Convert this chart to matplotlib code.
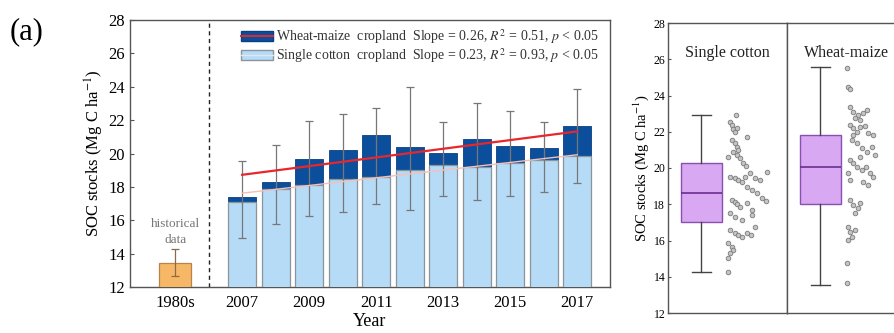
import numpy as np
import matplotlib
matplotlib.use("Agg")
import matplotlib.pyplot as plt
from matplotlib.patches import Patch
from matplotlib.lines import Line2D

plt.rcParams['font.family'] = ['Liberation Serif', 'DejaVu Serif']
plt.rcParams['mathtext.fontset'] = 'stix'

# ---------------- data ----------------
years = [2007, 2008, 2009, 2010, 2011, 2012, 2013, 2014, 2015, 2016, 2017]
year_ticks = ['1980s', '2007', '2009', '2011', '2013', '2015', '2017']
wheat_maize = [17.37, 18.27, 19.67, 20.20, 21.10, 20.37, 20.01, 20.85, 20.45, 20.30, 21.67]
single_cotton = [17.10, 17.85, 18.11, 18.47, 18.60, 19.01, 19.31, 19.17, 19.41, 19.61, 19.87]
err_mean = [17.24, 18.13, 19.11, 19.42, 19.83, 20.30, 19.66, 20.10, 20.00, 19.77, 21.06]
err_sd = [2.30, 2.37, 2.84, 2.95, 2.87, 3.70, 2.20, 2.90, 2.55, 2.10, 2.80]
hist_mean = 13.45
hist_sd = 0.80
slope_wm = 0.26
slope_sc = 0.23

# box plot statistics (q1, median, q3, whisker low, whisker high)
box_names = ['Single cotton', 'Wheat-maize']
box_q1 = [17.04, 18.01]
box_med = [18.60, 20.07]
box_q3 = [20.26, 21.82]
box_wlo = [14.25, 13.55]
box_whi = [22.92, 25.59]

cotton_pts_x = [0.571, 0.521, 0.535, 0.549, 0.563, 0.583, 0.661, 0.535, 0.563, 0.577,
                0.591, 0.549, 0.577, 0.605, 0.633, 0.655, 0.507, 0.829, 0.521, 0.563,
                0.591, 0.619, 0.647, 0.689, 0.731, 0.773, 0.661, 0.703, 0.745, 0.787,
                0.824, 0.535, 0.563, 0.577, 0.605, 0.661, 0.703, 0.521, 0.563, 0.619,
                0.703, 0.731, 0.521, 0.563, 0.591, 0.619, 0.661, 0.695, 0.507, 0.535,
                0.549, 0.521, 0.507, 0.507]
cotton_pts_y = [22.92, 22.56, 22.37, 22.13, 22.00, 22.19, 21.73, 21.54, 21.36, 21.18,
                20.99, 20.90, 20.72, 20.53, 20.26, 20.11, 20.63, 19.80, 19.52, 19.43,
                19.34, 19.25, 19.52, 19.71, 19.43, 19.34, 18.97, 18.79, 18.60, 18.33,
                18.18, 18.23, 18.14, 18.01, 17.87, 18.05, 17.68, 17.50, 17.31, 17.13,
                17.41, 16.76, 16.58, 16.40, 16.30, 16.17, 16.40, 16.30, 15.84, 15.66,
                15.48, 15.29, 15.02, 14.28]
wheat_pts_x = [0.501, 0.510, 0.529, 0.529, 0.557, 0.599, 0.571, 0.613, 0.641, 0.669,
               0.529, 0.557, 0.585, 0.613, 0.655, 0.683, 0.725, 0.557, 0.543, 0.585,
               0.627, 0.669, 0.711, 0.739, 0.613, 0.529, 0.557, 0.591, 0.627, 0.664,
               0.697, 0.725, 0.641, 0.683, 0.510, 0.529, 0.529, 0.557, 0.599, 0.571,
               0.613, 0.515, 0.529, 0.543, 0.571, 0.515, 0.501, 0.501]
wheat_pts_y = [25.50, 24.45, 24.34, 23.38, 23.11, 22.92, 22.74, 22.65, 23.02, 23.20,
               22.37, 22.19, 22.00, 22.28, 22.32, 21.91, 21.82, 21.82, 21.54, 21.36,
               21.09, 20.90, 21.18, 20.72, 20.63, 20.44, 20.26, 20.07, 19.89, 20.07,
               19.71, 19.52, 19.25, 19.06, 19.71, 19.34, 18.23, 17.96, 17.78, 17.50,
               18.05, 16.76, 16.49, 16.21, 16.58, 16.03, 14.74, 13.64]

# ---------------- figure ----------------
W, H = 894, 333
fig = plt.figure(figsize=(W / 100, H / 100), dpi=100)

def rect(x0, y0, x1, y1):
    return [x0 / W, 1 - y1 / H, (x1 - x0) / W, (y1 - y0) / H]

ax = fig.add_axes(rect(130, 20, 610, 287))

dark = '#0b4f9c'
light = '#b5dbf7'
frame_c = '#555555'

pos = np.arange(2, 2 + len(years))
bw = 0.84
ax.bar(pos, wheat_maize, width=bw, bottom=0, color=dark, edgecolor='#0a3f80', linewidth=0.6, zorder=2)
ax.bar(pos, single_cotton, width=bw, color=light, edgecolor='#8d9499', linewidth=0.9, zorder=3)
ax.errorbar(pos, err_mean, yerr=err_sd, fmt='none', ecolor='#777777', elinewidth=0.9,
            capsize=3, capthick=0.9, zorder=4)

ax.bar([0], [hist_mean], width=0.95, color='#f6b866', edgecolor='#b9834a', linewidth=0.9, zorder=3)
ax.errorbar([0], [hist_mean], yerr=[hist_sd], fmt='none', ecolor='#8a6a4a', elinewidth=0.9,
            capsize=3, capthick=0.9, zorder=4)
ax.text(0, 15.3, 'historical\ndata', ha='center', va='center', fontsize=9.5,
        color='#777777', linespacing=1.45)

ax.axvline(1, color='#222222', linestyle=(0, (3, 2.5)), linewidth=1.0, zorder=1)

yr = np.array(years, dtype=float)
xc = yr - yr.mean()
line_wm = np.mean(wheat_maize) + slope_wm * xc
line_sc = np.mean(single_cotton) + slope_sc * xc
ax.plot(pos, line_sc, color='#f4c0b8', linewidth=1.0, zorder=5)
ax.plot(pos, line_wm, color='#e8262b', linewidth=1.6, zorder=5)

ax.set_xlim(-1.35, 12.98)
ax.set_ylim(12, 28)
ax.set_yticks(np.arange(12, 29, 2))
ax.set_xticks([0, 2, 4, 6, 8, 10, 12])
ax.set_xticklabels(year_ticks)
ax.tick_params(axis='both', labelsize=12, direction='in', length=3, color=frame_c)
ax.tick_params(axis='x', length=0, pad=6)
for s in ax.spines.values():
    s.set_color(frame_c)
    s.set_linewidth(1.0)
ax.set_xlabel('Year', fontsize=13, labelpad=1)
ax.set_ylabel('SOC stocks (Mg C ha$^{-1}$)', fontsize=12, labelpad=2)

h_wm = (Patch(facecolor=dark, edgecolor='#0a3f80'), Line2D([], [], color='#e8262b', lw=1.4))
h_sc = (Patch(facecolor=light, edgecolor='#8d9499'), Line2D([], [], color='#dfe9f5', lw=1.0))
leg = ax.legend([h_wm, h_sc],
                ['Wheat-maize  cropland  Slope = 0.26, $R^2$ = 0.51, $p$ < 0.05',
                 'Single cotton  cropland  Slope = 0.23, $R^2$ = 0.93, $p$ < 0.05'],
                loc='upper left', bbox_to_anchor=(0.212, 1.01), frameon=False,
                fontsize=10, handlelength=2.3, handleheight=0.8, handletextpad=0.15,
                labelspacing=0.02, borderaxespad=0.3)
for t in leg.get_texts():
    t.set_color('#333333')

fig.text(10 / W, 1 - 32 / H, '(a)', fontsize=22, va='center', ha='left')

# ---------------- right panel ----------------
axes_r = [fig.add_axes(rect(668, 23, 787, 313)), fig.add_axes(rect(787, 23, 906, 313))]
pts = [(cotton_pts_x, cotton_pts_y), (wheat_pts_x, wheat_pts_y)]
for i, a in enumerate(axes_r):
    stats = [dict(q1=box_q1[i], med=box_med[i], q3=box_q3[i], whislo=box_wlo[i],
                  whishi=box_whi[i], fliers=[], label='')]
    a.bxp(stats, positions=[0.28], widths=0.345, patch_artist=True, showfliers=False,
          boxprops=dict(facecolor='#d8a8f2', edgecolor='#8a4fb0', linewidth=1.0),
          medianprops=dict(color='#6b2d8f', linewidth=1.2),
          whiskerprops=dict(color='#444444', linewidth=1.0),
          capprops=dict(color='#444444', linewidth=1.0), capwidths=0.16)
    a.scatter(pts[i][0], pts[i][1], s=11, facecolor='#c4c4c4', edgecolor='#7a7a7a',
              linewidths=0.6, zorder=3)
    a.set_xlim(0, 1)
    a.set_ylim(12, 28)
    a.set_xticks([])
    a.set_yticks(np.arange(12, 29, 2))
    a.tick_params(axis='y', labelsize=8.5, direction='in', length=2.5, color=frame_c, pad=2)
    a.text(0.5, 0.895, box_names[i], transform=a.transAxes, ha='center', va='center',
           fontsize=11.5, color='#222222')
    for s in a.spines.values():
        s.set_color(frame_c)
        s.set_linewidth(1.0)
axes_r[1].tick_params(axis='y', labelleft=False, length=0)
axes_r[0].set_ylabel('SOC stocks (Mg C ha$^{-1}$)', fontsize=10.5, labelpad=2)

fig.savefig('out.png', dpi=100)
